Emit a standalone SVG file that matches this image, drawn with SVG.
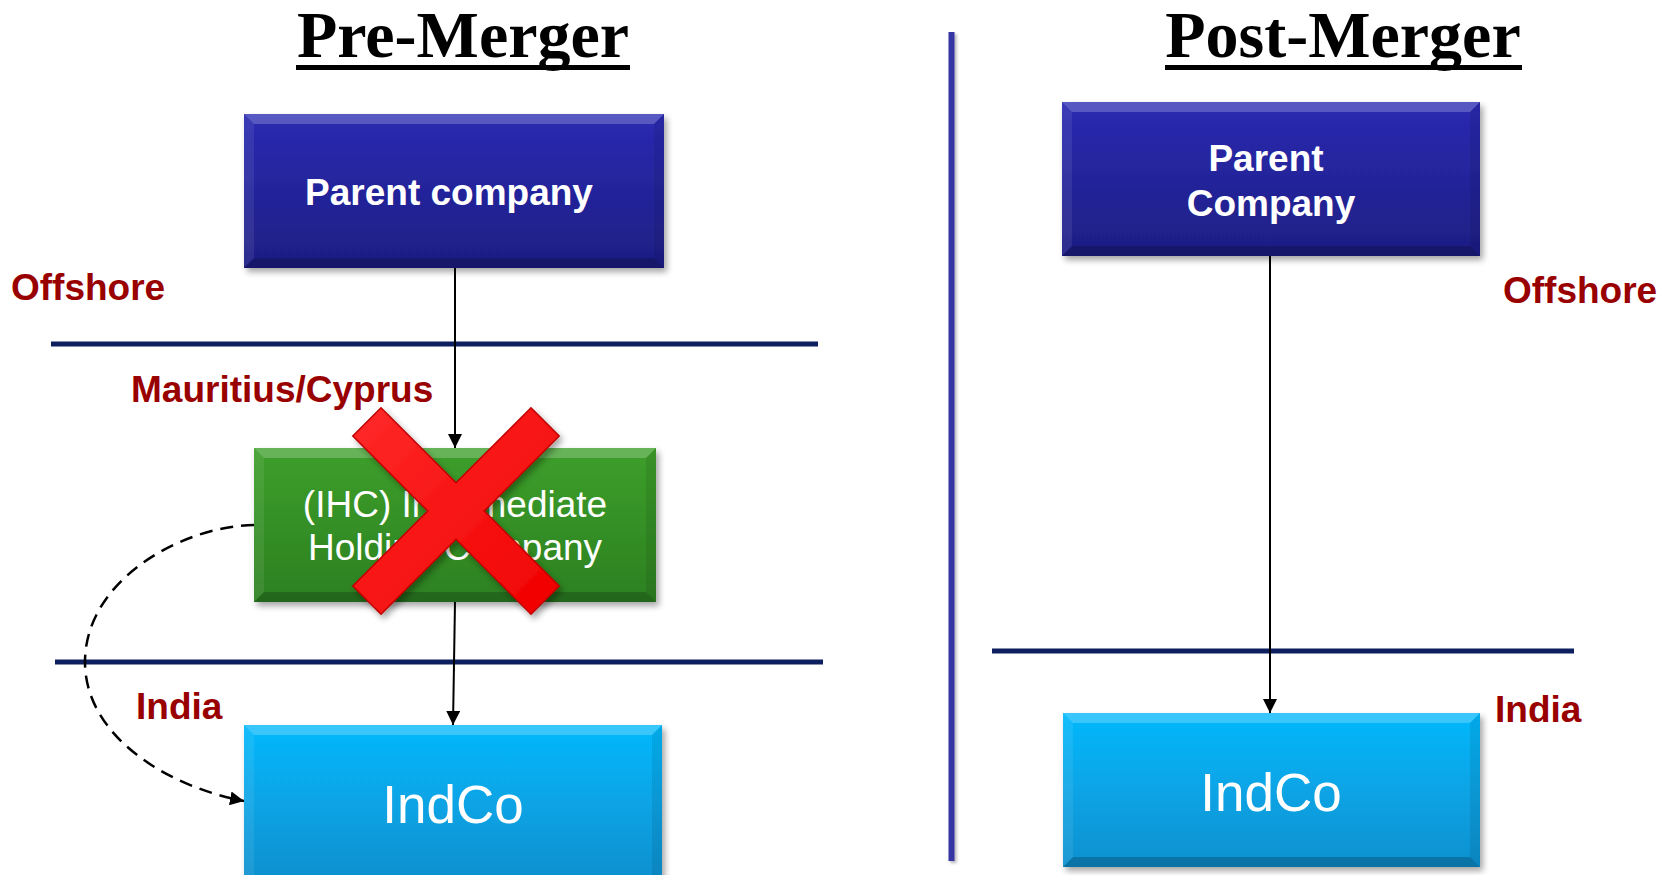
<svg xmlns="http://www.w3.org/2000/svg" width="1671" height="875" viewBox="0 0 1671 875">
  <style>
    .title { font-family: "Liberation Serif", "Times New Roman", serif; font-weight: bold; font-size: 66px; fill: #000; text-anchor: middle; }
    .region { font-family: "Liberation Sans", Arial, sans-serif; font-weight: bold; font-size: 37px; fill: #990000; }
    .boxb { font-family: "Liberation Sans", Arial, sans-serif; font-weight: bold; font-size: 37px; fill: #fff; text-anchor: middle; }
    .boxr { font-family: "Liberation Sans", Arial, sans-serif; font-size: 37px; fill: #fff; text-anchor: middle; }
    .big { font-family: "Liberation Sans", Arial, sans-serif; font-size: 53px; fill: #fff; text-anchor: middle; }
    .divider { stroke: #0d1f5e; stroke-width: 5; }
    .conn { stroke: #000; stroke-width: 2; fill: none; marker-end: url(#arrow); }
    .dash { stroke: #000; stroke-width: 2.5; fill: none; stroke-dasharray: 13 8; marker-end: url(#arrow); }
    .bev-t { fill: #fff; fill-opacity: 0.22; }
    .bev-l { fill: #fff; fill-opacity: 0.08; }
    .bev-r { fill: #000; fill-opacity: 0.08; }
    .bev-b { fill: #000; fill-opacity: 0.2; }
  </style>
  <defs>
    <marker id="arrow" markerUnits="userSpaceOnUse" markerWidth="14" markerHeight="14" refX="14" refY="7" orient="auto">
      <path d="M0,0 L14,7 L0,14 z" fill="#000"/>
    </marker>
    <linearGradient id="gBlue" x1="0" y1="0" x2="0" y2="1">
      <stop offset="0" stop-color="#2a2ab2"/>
      <stop offset="1" stop-color="#1e1e84"/>
    </linearGradient>
    <linearGradient id="gGreen" x1="0" y1="0" x2="0" y2="1">
      <stop offset="0" stop-color="#3d9f2b"/>
      <stop offset="1" stop-color="#2c8020"/>
    </linearGradient>
    <linearGradient id="gCyan" x1="0" y1="0" x2="0" y2="1">
      <stop offset="0" stop-color="#06b8fc"/>
      <stop offset="1" stop-color="#0890cf"/>
    </linearGradient>
    <linearGradient id="gRed" x1="0" y1="0" x2="1" y2="1">
      <stop offset="0" stop-color="#ff2a2a"/>
      <stop offset="1" stop-color="#f00000"/>
    </linearGradient>
    <filter id="shadow" x="-10%" y="-10%" width="120%" height="130%">
      <feDropShadow dx="3" dy="4" stdDeviation="3" flood-color="#000" flood-opacity="0.35"/>
    </filter>
    <filter id="shadowV" x="-100%" y="-2%" width="300%" height="104%">
      <feDropShadow dx="2" dy="2" stdDeviation="1.5" flood-color="#000" flood-opacity="0.3"/>
    </filter>
  </defs>

  <g id="titles">
    <text class="title" x="463" y="57">Pre-Merger</text>
    <rect x="296" y="65" width="334" height="5" fill="#000"/>
    <text class="title" x="1343" y="57">Post-Merger</text>
    <rect x="1165" y="65" width="357" height="5" fill="#000"/>
  </g>

  <g id="dividers">
    <rect x="948.5" y="32" width="6" height="829" fill="#3434a4" filter="url(#shadowV)"/>
    <line class="divider" x1="51" y1="344" x2="818" y2="344"/>
    <line class="divider" x1="55" y1="662" x2="823" y2="662"/>
    <line class="divider" x1="992" y1="651" x2="1574" y2="651"/>
  </g>

  <g id="region-labels">
    <text class="region" x="11" y="300">Offshore</text>
    <text class="region" x="131" y="402">Mauritius/Cyprus</text>
    <text class="region" x="136" y="719">India</text>
    <text class="region" x="1503" y="303">Offshore</text>
    <text class="region" x="1495" y="722">India</text>
  </g>

  <g id="connectors">
    <path class="conn" d="M455,268 L455,448"/>
    <path class="conn" d="M455,602 L453,725"/>
    <path class="dash" d="M254,525 C182,526 85,580 85,662 C85,735 165,786 244,801"/>
    <path class="conn" d="M1270,256 L1270,713"/>
  </g>

  <g id="parent-pre">
    <g filter="url(#shadow)">
      <rect x="244" y="114" width="420" height="154" fill="url(#gBlue)"/>
    </g>
    <polygon class="bev-t" points="244,114 664,114 654,124 254,124"/>
    <polygon class="bev-l" points="244,114 254,124 254,258 244,268"/>
    <polygon class="bev-r" points="664,114 654,124 654,258 664,268"/>
    <polygon class="bev-b" points="244,268 664,268 654,258 254,258"/>
    <text class="boxb" x="449" y="205">Parent company</text>
  </g>

  <g id="ihc">
    <g filter="url(#shadow)">
      <rect x="254" y="448" width="402" height="154" fill="url(#gGreen)"/>
    </g>
    <polygon class="bev-t" points="254,448 656,448 646,458 264,458"/>
    <polygon class="bev-l" points="254,448 264,458 264,592 254,602"/>
    <polygon class="bev-r" points="656,448 646,458 646,592 656,602"/>
    <polygon class="bev-b" points="254,602 656,602 646,592 264,592"/>
    <text class="boxr" x="455" y="517">(IHC) Intermediate</text>
    <text class="boxr" x="455" y="560">Holding Company</text>
  </g>

  <g id="cross">
    <polygon filter="url(#shadow)" fill="url(#gRed)" stroke="#c00000" stroke-width="1.5" stroke-linejoin="miter"
      points="381,407.8 456,482.7 531,407.8 559.2,436 484.3,511 559.2,586 531,614.2 456,539.3 381,614.2 352.8,586 427.7,511 352.8,436"/>
  </g>

  <g id="indco-pre">
    <g filter="url(#shadow)">
      <rect x="244" y="725" width="418" height="154" fill="url(#gCyan)"/>
    </g>
    <polygon class="bev-t" points="244,725 662,725 652,735 254,735"/>
    <polygon class="bev-l" points="244,725 254,735 254,879 244,879"/>
    <polygon class="bev-r" points="662,725 652,735 652,879 662,879"/>
    <text class="big" x="453" y="823">IndCo</text>
  </g>

  <g id="parent-post">
    <g filter="url(#shadow)">
      <rect x="1062" y="102" width="418" height="154" fill="url(#gBlue)"/>
    </g>
    <polygon class="bev-t" points="1062,102 1480,102 1470,112 1072,112"/>
    <polygon class="bev-l" points="1062,102 1072,112 1072,246 1062,256"/>
    <polygon class="bev-r" points="1480,102 1470,112 1470,246 1480,256"/>
    <polygon class="bev-b" points="1062,256 1480,256 1470,246 1072,246"/>
    <text class="boxb" x="1266" y="171">Parent</text>
    <text class="boxb" x="1271" y="216">Company</text>
  </g>

  <g id="indco-post">
    <g filter="url(#shadow)">
      <rect x="1063" y="713" width="417" height="154" fill="url(#gCyan)"/>
    </g>
    <polygon class="bev-t" points="1063,713 1480,713 1470,723 1073,723"/>
    <polygon class="bev-l" points="1063,713 1073,723 1073,857 1063,867"/>
    <polygon class="bev-r" points="1480,713 1470,723 1470,857 1480,867"/>
    <polygon class="bev-b" points="1063,867 1480,867 1470,857 1073,857"/>
    <text class="big" x="1271" y="811">IndCo</text>
  </g>
</svg>
